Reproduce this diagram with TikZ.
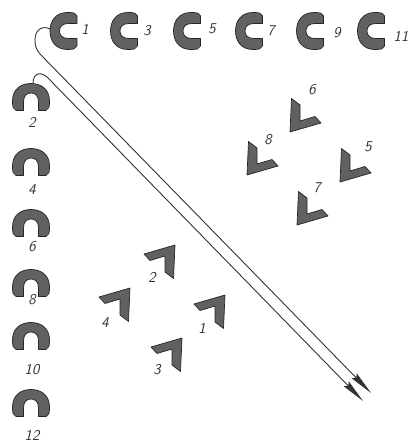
\documentclass[tikz,border=0pt]{standalone}
\usetikzlibrary{arrows.meta}
\begin{document}
\begin{tikzpicture}[x=1pt,y=-1pt,
  shapefill/.style={fill=black!62,draw=black!85,line width=0.7pt,line join=round},
  lab/.style={inner sep=0pt,font=\fontsize{15}{15}\selectfont\sffamily\itshape,text=black!80},
  arrowline/.style={draw=black!80,line width=0.9pt,-{Stealth[length=24pt,width=7pt,inset=3pt]}},
  cshape/.pic={\path[shapefill] (13.5,-15) .. controls (12.5,-18) and (10,-18.5) .. (4,-18.5)
      .. controls (-8,-18.5) and (-13.5,-10) .. (-13.5,0)
      .. controls (-13.5,10) and (-8,18.5) .. (4,18.5) .. controls (10,18.5) and (12.5,18) .. (13.5,15)
      -- (13.5,7.5) -- (5,7.5)
      .. controls (-1.5,7.5) and (-4,4) .. (-4,0) .. controls (-4,-4) and (-1.5,-7.5) .. (5,-7.5)
      -- (13.5,-7.5) -- cycle;},
  lshape/.pic={\path[shapefill] (0,0) -- (1.5,-33.5) -- (10,-27) -- (10,-11) -- (25,-15.5)
      -- (31,-9) -- cycle;}
]
\useasboundingbox (0,0) rectangle (410,443);
% top row of C shapes
\foreach \n/\x/\lx/\ly in {1/63.5/85/29, 3/124/147/31, 5/187/212/29, 7/249/271/31, 9/310/337/33, 11/371/401/36}{
  \coordinate (c\n) at (\x,31);
  \pic at (c\n) {cshape};
  \node[lab] (lc\n) at (\lx,\ly) {\n};
}
% left column of arches
\foreach \n/\y/\ly in {2/97/122, 4/162/190, 6/223/247, 8/283/300, 10/336/370, 12/403/435}{
  \coordinate (a\n) at (31,\y);
  \pic[rotate=-90] at (a\n) {cshape};
  \node[lab] (la\n) at (32,\ly) {\n};
}
% L chevrons 5-8
\foreach \n/\x/\y/\lx/\ly in {6/290/132/312/90, 8/247/175/268/140, 5/340/182/368/147, 7/297/225/317/188}{
  \coordinate (v\n) at (\x,\y);
  \pic at (v\n) {lshape};
  \node[lab] (lv\n) at (\lx,\ly) {\n};
}
% 7-shaped chevrons 1-4
\foreach \n/\x/\y/\lx/\ly in {2/175/245/152/277, 4/130/288/105/323, 1/225/295/202/328, 3/182/338/157/370}{
  \coordinate (u\n) at (\x,\y);
  \pic[rotate=180] at (u\n) {lshape};
  \node[lab] (lu\n) at (\lx,\ly) {\n};
}
% arrows
\coordinate (c1w) at (50.2,29);
\coordinate (a2t) at (33,83.5);
\coordinate (tipA) at (371,393);
\coordinate (tipB) at (363,401);
\draw[arrowline] (c1w) .. controls (42,25) and (35,30) .. (35,40) .. controls (35,46) and (36,49) .. (40,54) -- (tipA);
\draw[arrowline] (a2t) .. controls (33,72) and (42,71) .. (49,79) -- (tipB);
\end{tikzpicture}
\end{document}
